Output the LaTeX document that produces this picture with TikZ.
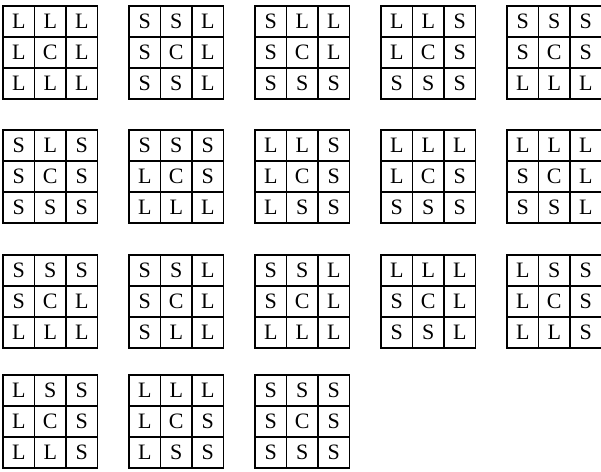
\documentclass[tikz,border=0pt]{standalone}
\usepackage{fontspec}
\setmainfont{Liberation Serif}

\begin{document}
\begin{tikzpicture}[
    x=1pt, y=-1pt,
    cell/.style={draw, line width=1.1pt, minimum width=31.5pt, minimum height=31pt,
        inner sep=0pt, text height=14.5pt, text depth=0pt, font=\fontsize{22}{26}\selectfont}
]
\useasboundingbox (0,0) rectangle (601,471);
% each grid: number / column / top edge / cells row by row
\foreach \n/\gx/\gy/\cells in {
    1/0/6/{L,L,L,L,C,L,L,L,L},
    2/1/6/{S,S,L,S,C,L,S,S,L},
    3/2/6/{S,L,L,S,C,L,S,S,S},
    4/3/6/{L,L,S,L,C,S,S,S,S},
    5/4/6/{S,S,S,S,C,S,L,L,L},
    6/0/130/{S,L,S,S,C,S,S,S,S},
    7/1/130/{S,S,S,L,C,S,L,L,L},
    8/2/130/{L,L,S,L,C,S,L,S,S},
    9/3/130/{L,L,L,L,C,S,S,S,S},
    10/4/130/{L,L,L,S,C,L,S,S,L},
    11/0/255/{S,S,S,S,C,L,L,L,L},
    12/1/255/{S,S,L,S,C,L,S,L,L},
    13/2/255/{S,S,L,S,C,L,L,L,L},
    14/3/255/{L,L,L,S,C,L,S,S,L},
    15/4/255/{L,S,S,L,C,S,L,L,S},
    16/0/375/{L,S,S,L,C,S,L,L,S},
    17/1/375/{L,L,L,L,C,S,L,S,S},
    18/2/375/{S,S,S,S,C,S,S,S,S}}
  \foreach \t [count=\k from 0] in \cells {
    \pgfmathsetmacro\cx{\gx*126+3+31.5*(mod(\k,3)+0.5)}
    \pgfmathsetmacro\cy{\gy+31*(int(\k/3)+0.5)}
    \node[cell] (g\n-\k) at (\cx,\cy) {\t};
  }
\end{tikzpicture}
\end{document}
